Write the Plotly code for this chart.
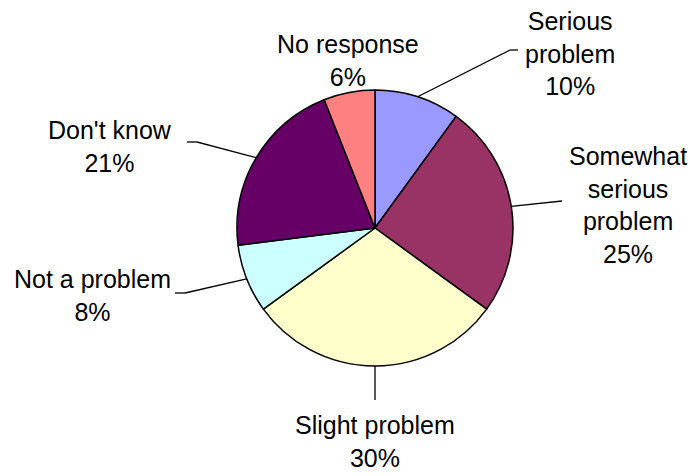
import math
import plotly.graph_objects as go

# ---- data ----
categories = ["Serious<br>problem", "Somewhat<br>serious<br>problem", "Slight problem",
              "Not a problem", "Don't know", "No response"]
values = [10, 25, 30, 8, 21, 6]
colors = ["#9999FF", "#993366", "#FFFFCC", "#CCFFFF", "#660066", "#FF8080"]

# ---- layout (pixels) ----
W, H = 695, 476
CX, CY, R = 375, 228, 138
# label block centres (px) and leader-line bend/end points (px); None = no leader
label_pos = [(570, 53), (628, 205), (375, 441), (92, 295), (110, 146), (348, 60)]
leaders = [
    [(510, 50), (518, 50)],
    [(562, 201)],
    [(375, 400)],
    [(185, 293), (175, 293)],
    [(197, 142), (187, 142)],
    None,
]


def px(x, y):
    return x / W, 1 - y / H


fig = go.Figure(go.Pie(
    labels=categories,
    values=values,
    sort=False,
    direction="clockwise",
    rotation=0,
    textinfo="none",
    hoverinfo="label+percent",
    marker=dict(colors=colors, line=dict(color="black", width=1.5)),
    domain=dict(x=[(CX - R) / W, (CX + R) / W], y=[1 - (CY + R) / H, 1 - (CY - R) / H]),
    showlegend=False,
))

total = sum(values)
cum = 0
shapes = []
annotations = []
for i, v in enumerate(values):
    mid = (cum + v / 2) / total * 2 * math.pi
    cum += v
    sx, sy = CX + R * math.sin(mid), CY - R * math.cos(mid)
    if leaders[i]:
        pts = [(sx, sy)] + leaders[i]
        for (x0, y0), (x1, y1) in zip(pts[:-1], pts[1:]):
            a0, b0 = px(x0, y0)
            a1, b1 = px(x1, y1)
            shapes.append(dict(type="line", xref="paper", yref="paper",
                               x0=a0, y0=b0, x1=a1, y1=b1,
                               line=dict(color="black", width=1.3)))
    lx, ly = px(*label_pos[i])
    pct = round(v / total * 100)
    annotations.append(dict(
        x=lx, y=ly, xref="paper", yref="paper",
        text=f"{categories[i]}<br>{pct}%",
        showarrow=False, xanchor="center", yanchor="middle", align="center",
        font=dict(family="Liberation Sans, Arial, sans-serif", size=25, color="black"),
    ))

fig.update_layout(
    width=W, height=H,
    margin=dict(l=0, r=0, t=0, b=0),
    paper_bgcolor="white", plot_bgcolor="white",
    shapes=shapes, annotations=annotations,
)

fig.write_html(
    "out.html",
    config={"displayModeBar": False},
    post_script="document.body.style.margin='0';document.body.style.overflow='hidden';",
)
